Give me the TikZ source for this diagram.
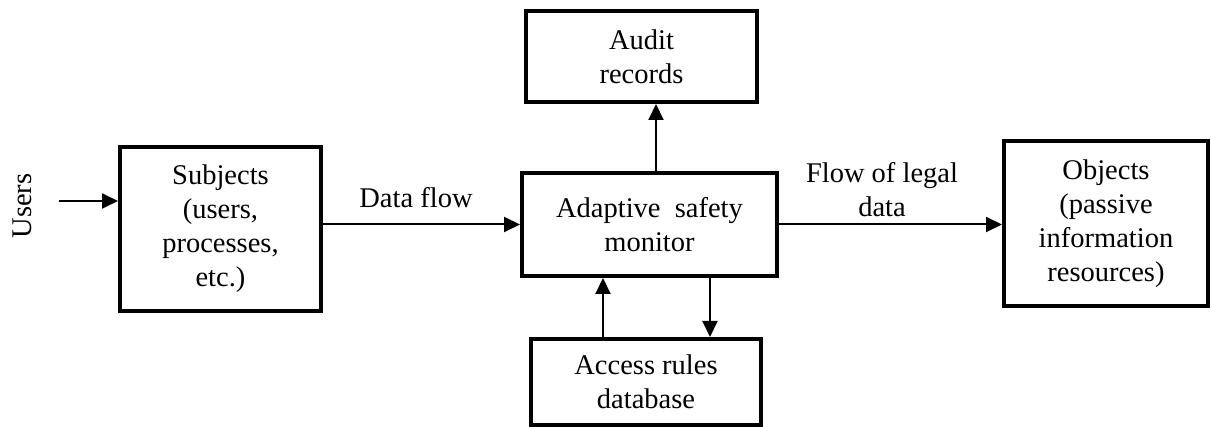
\documentclass[tikz,border=0pt]{standalone}
\usepackage{fontspec}
\setmainfont{Liberation Serif}
\usetikzlibrary{arrows.meta}
\begin{document}
\begin{tikzpicture}[x=1pt,y=-1pt,
  txt/.style={font=\fontsize{28.5}{34}\selectfont, align=center, inner sep=0pt},
  box/.style={txt, draw, line width=4pt, minimum width=#1},
  arr/.style={line width=2pt, -{Triangle[length=16pt,width=15pt]}}]
\useasboundingbox (0,0) rectangle (1211,427);
\node[box=201pt, minimum height=164pt] (subj) at (220.5,229) {Subjects\\(users,\\processes,\\etc.)};
\node[box=231pt, minimum height=91pt] (aud) at (641.5,56.5) {Audit\\records};
\node[box=255pt, minimum height=103pt] (mon) at (649.5,224.5) {Adaptive\ \ safety\\monitor};
\node[box=230pt, minimum height=86pt] (acc) at (646,382) {Access rules\\database};
\node[box=204pt, minimum height=165pt] (obj) at (1106,223.5) {Objects\\(passive\\information\\resources)};
\node[txt, rotate=90] (users) at (22,206) {Users};
\node[txt] (dflow) at (416,198) {Data flow};
\node[txt] (lflow) at (882,190) {Flow of legal\\data};
\coordinate (uin) at (59,201);
\draw[arr] (uin) -- (uin -| subj.west);
\draw[arr] (mon.west -| subj.east) -- (mon.west);
\draw[arr] (mon.east) -- (mon.east -| obj.west);
\draw[arr] ([xshift=6.5pt]mon.north) -- ([xshift=6.5pt]mon.north |- aud.south);
\draw[arr] ([xshift=-43pt]acc.north) -- ([xshift=-43pt]acc.north |- mon.south);
\draw[arr] ([xshift=64pt]acc.north |- mon.south) -- ([xshift=64pt]acc.north);
\end{tikzpicture}
\end{document}
